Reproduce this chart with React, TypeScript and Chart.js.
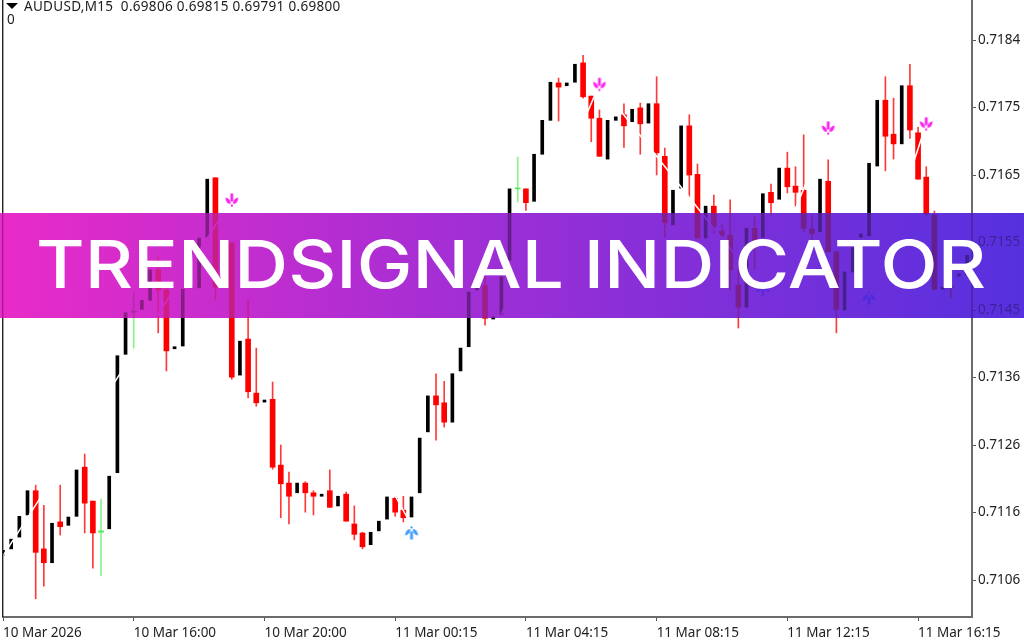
import React, { useEffect, useRef } from "react";
import { Chart, registerables } from "chart.js";

Chart.register(...registerables);

const symbolText = "AUDUSD,M15  0.69806 0.69815 0.69791 0.69800";
const bannerText = "TRENDSIGNAL INDICATOR";

const timeLabels = ["10 Mar 2026", "10 Mar 16:00", "10 Mar 20:00", "11 Mar 00:15", "11 Mar 04:15", "11 Mar 08:15", "11 Mar 12:15", "11 Mar 16:15"];
const barsPerTimeLabel = 16;
const priceTicks = [0.71063, 0.711605, 0.71258, 0.713555, 0.71453, 0.715505, 0.71648, 0.717455, 0.71843];

const opens = [
  0.71099, 0.71108, 0.71125, 0.71157, 0.71192, 0.71108, 0.71088, 0.71147, 0.71142, 0.71155,
  0.71226, 0.71177, 0.71132, 0.71137, 0.71218, 0.71389, 0.7145, 0.71454, 0.71467, 0.71511,
  0.71482, 0.71397, 0.71401, 0.71485, 0.71485, 0.71558, 0.71644, 0.71486, 0.7155, 0.71359,
  0.71411, 0.71333, 0.7132, 0.71324, 0.71229, 0.71203, 0.71189, 0.71203, 0.71189, 0.71184,
  0.71192, 0.7117, 0.71187, 0.71144, 0.71131, 0.71114, 0.71134, 0.71151, 0.71181, 0.71164,
  0.71154, 0.71189, 0.71277, 0.71329, 0.71319, 0.71291, 0.71365, 0.714, 0.71482, 0.71488,
  0.7144, 0.71446, 0.71525, 0.71628, 0.71628, 0.7161, 0.71678, 0.71727, 0.71781, 0.71777,
  0.71782, 0.7181, 0.71762, 0.7173, 0.71671, 0.71727, 0.71735, 0.71725, 0.71745, 0.71723,
  0.71751, 0.71675, 0.71576, 0.71629, 0.71719, 0.71649, 0.71557, 0.71603, 0.71567, 0.71561,
  0.71489, 0.71457, 0.71571, 0.71558, 0.71623, 0.71613, 0.71658, 0.71632, 0.71626, 0.7157,
  0.71566, 0.71639, 0.71537, 0.71453, 0.71508, 0.71558, 0.7156, 0.71661, 0.71756, 0.71707,
  0.71693, 0.71777, 0.71709, 0.71645, 0.7159, 0.71483, 0.71486, 0.71502, 0.71504,
];
const highs = [
  0.71106, 0.71122, 0.71155, 0.71192, 0.712, 0.71171, 0.71145, 0.712, 0.71154, 0.71222,
  0.71245, 0.71177, 0.7118, 0.71213, 0.71387, 0.71449, 0.71479, 0.71467, 0.71511, 0.7153,
  0.71489, 0.714, 0.71483, 0.71488, 0.71557, 0.71642, 0.71644, 0.7155, 0.7155, 0.71408,
  0.71467, 0.71398, 0.71323, 0.71349, 0.71258, 0.71219, 0.71203, 0.71205, 0.71192, 0.71187,
  0.71222, 0.71184, 0.7119, 0.7117, 0.71132, 0.71132, 0.71148, 0.71183, 0.71183, 0.71184,
  0.71183, 0.71268, 0.71329, 0.71361, 0.7135, 0.71361, 0.71398, 0.71479, 0.71486, 0.71501,
  0.71443, 0.71501, 0.71628, 0.71674, 0.71628, 0.71678, 0.71727, 0.71782, 0.71788, 0.71781,
  0.71808, 0.71821, 0.71762, 0.71742, 0.71727, 0.71732, 0.71751, 0.71743, 0.71752, 0.71751,
  0.7179, 0.71687, 0.71626, 0.71719, 0.71735, 0.71664, 0.71603, 0.71619, 0.71576, 0.71612,
  0.71511, 0.71571, 0.71587, 0.71621, 0.71635, 0.71658, 0.71681, 0.7166, 0.71706, 0.7159,
  0.71642, 0.7167, 0.71537, 0.71508, 0.71543, 0.71563, 0.71665, 0.71756, 0.7179, 0.71759,
  0.71777, 0.71808, 0.71717, 0.7166, 0.71596, 0.71486, 0.71506, 0.71505, 0.71532,
];
const lows = [
  0.71099, 0.71108, 0.71125, 0.71157, 0.71036, 0.71054, 0.71088, 0.71128, 0.71142, 0.71155,
  0.71131, 0.7108, 0.71069, 0.71137, 0.71218, 0.71389, 0.71398, 0.71454, 0.71467, 0.7142,
  0.71365, 0.71397, 0.71401, 0.71485, 0.71485, 0.71558, 0.71467, 0.71486, 0.71353, 0.71359,
  0.71326, 0.71314, 0.7132, 0.71223, 0.71153, 0.71144, 0.71189, 0.71161, 0.71157, 0.71184,
  0.71168, 0.7117, 0.71148, 0.71121, 0.71108, 0.71114, 0.71134, 0.71151, 0.71155, 0.71147,
  0.71154, 0.71189, 0.71277, 0.71265, 0.71284, 0.71291, 0.71365, 0.714, 0.71482, 0.71431,
  0.7144, 0.71446, 0.71525, 0.71609, 0.71597, 0.7161, 0.71678, 0.71727, 0.71726, 0.71777,
  0.71782, 0.71759, 0.71696, 0.71675, 0.71671, 0.71727, 0.71688, 0.71725, 0.71678, 0.71723,
  0.71648, 0.71558, 0.71576, 0.71629, 0.71616, 0.71557, 0.71557, 0.71564, 0.71508, 0.71482,
  0.71427, 0.71457, 0.71511, 0.71558, 0.7159, 0.71613, 0.71622, 0.71603, 0.71566, 0.71554,
  0.71566, 0.71537, 0.7142, 0.71453, 0.71508, 0.71558, 0.7156, 0.71661, 0.71654, 0.71671,
  0.71693, 0.71701, 0.71642, 0.71589, 0.71482, 0.71483, 0.7147, 0.71502, 0.71504,
];
const closes = [
  0.71106, 0.71122, 0.71155, 0.71192, 0.71103, 0.71088, 0.71145, 0.7114, 0.71154, 0.71222,
  0.71174, 0.71131, 0.71134, 0.71213, 0.71387, 0.71449, 0.71451, 0.71467, 0.71511, 0.71482,
  0.71394, 0.714, 0.71483, 0.71488, 0.71557, 0.71642, 0.71486, 0.7155, 0.71356, 0.71408,
  0.71335, 0.71319, 0.71323, 0.71226, 0.71202, 0.71184, 0.71203, 0.71189, 0.71184, 0.71187,
  0.71168, 0.71184, 0.71148, 0.71129, 0.71111, 0.71132, 0.71148, 0.71183, 0.71161, 0.71153,
  0.71183, 0.71268, 0.71329, 0.71316, 0.71291, 0.71361, 0.71398, 0.71479, 0.71486, 0.71441,
  0.71443, 0.71501, 0.71628, 0.71629, 0.71608, 0.71678, 0.71727, 0.71782, 0.71775, 0.71781,
  0.71808, 0.71761, 0.7173, 0.71675, 0.71727, 0.71732, 0.71719, 0.71743, 0.71722, 0.71751,
  0.7168, 0.71579, 0.71626, 0.71719, 0.71648, 0.71557, 0.71603, 0.71573, 0.71561, 0.71511,
  0.71457, 0.71571, 0.71554, 0.71621, 0.71608, 0.71658, 0.71631, 0.71623, 0.71571, 0.71563,
  0.71642, 0.71537, 0.71454, 0.71508, 0.71543, 0.71563, 0.71665, 0.71756, 0.71704, 0.71693,
  0.71777, 0.71713, 0.71642, 0.71592, 0.71483, 0.71486, 0.71485, 0.71505, 0.71532,
];
const limeBars = [12, 16, 63];

const sellSignalBars = [28, 73, 101, 113];
const sellSignalPrices = [0.71612, 0.71779, 0.71716, 0.71722];
const buySignalBars = [50, 93, 106];
const buySignalPrices = [0.71131, 0.71482, 0.7147];

const trendBars = [0, 28, 50, 73, 93, 101, 106, 113, 118];
const trendPrices = [0.71098, 0.71612, 0.71142, 0.71779, 0.71482, 0.71716, 0.7147, 0.71722, 0.71722];

const lastBarX = 118.6;
const priceMin = 0.710096;
const priceMax = 0.719008;

const indices = opens.map((_, i) => i);
const isLime = (i: number) => limeBars.includes(i);
const isUp = (i: number) => !isLime(i) && closes[i] >= opens[i];
const isDown = (i: number) => !isLime(i) && closes[i] < opens[i];
const body = (i: number) => ({ x: i, y: [opens[i], closes[i]] });
const wick = (i: number) => ({ x: i, y: [lows[i], highs[i]] });

function arrowImage(color: string, up: boolean) {
  const c = document.createElement("canvas");
  c.width = 16;
  c.height = 16;
  const g = c.getContext("2d") as CanvasRenderingContext2D;
  if (up) {
    g.translate(0, 16);
    g.scale(1, -1);
  }
  g.fillStyle = color;
  g.fillRect(6.6, 1.5, 2.8, 8);
  g.beginPath();
  g.moveTo(1.5, 5.5);
  g.quadraticCurveTo(5.5, 6, 6.8, 10.5);
  g.lineTo(6.5, 12);
  g.quadraticCurveTo(2, 11.5, 1.5, 5.5);
  g.closePath();
  g.fill();
  g.beginPath();
  g.moveTo(14.5, 5.5);
  g.quadraticCurveTo(10.5, 6, 9.2, 10.5);
  g.lineTo(9.5, 12);
  g.quadraticCurveTo(14, 11.5, 14.5, 5.5);
  g.closePath();
  g.fill();
  g.fillRect(7, 12.6, 2, 2);
  return c;
}

const UI_FONT = '"Noto Sans", "DejaVu Sans", sans-serif';

const overlayPlugin = {
  id: "overlay",
  afterDraw(chart: any) {
    const ctx = chart.ctx as CanvasRenderingContext2D;
    ctx.save();
    ctx.fillStyle = "#222";
    ctx.fillRect(2, 0, 1.4, 617);
    ctx.fillStyle = "#000";
    ctx.beginPath();
    ctx.moveTo(6, 3);
    ctx.lineTo(18, 3);
    ctx.lineTo(12, 9);
    ctx.closePath();
    ctx.fill();
    ctx.fillStyle = "#1c1c1c";
    ctx.font = `13.5px ${UI_FONT}`;
    ctx.textAlign = "left";
    ctx.textBaseline = "alphabetic";
    (ctx as any).letterSpacing = "0.3px";
    ctx.fillText(symbolText, 24, 11);
    (ctx as any).letterSpacing = "0px";
    ctx.fillText("0", 7, 24);
    const top = 213;
    const h = 105;
    const w = chart.width;
    const grad = ctx.createLinearGradient(0, 0, w, 0);
    grad.addColorStop(0, "#e92bc8");
    grad.addColorStop(0.5, "#9a2fd6");
    grad.addColorStop(1, "#5630de");
    ctx.fillStyle = grad;
    ctx.globalCompositeOperation = "multiply";
    ctx.fillRect(0, top, w, h);
    ctx.globalCompositeOperation = "source-over";
    ctx.globalAlpha = 0.65;
    ctx.fillRect(0, top, w, h);
    ctx.globalAlpha = 1;
    ctx.fillStyle = "#fff";
    ctx.font = '500 66px Inter, "Open Sans", sans-serif';
    const tw = ctx.measureText(bannerText).width;
    ctx.translate(36, 288);
    ctx.scale(950 / tw, 1);
    ctx.fillText(bannerText, 0, 0);
    ctx.restore();
  },
};

export default function App() {
  const ref = useRef<HTMLCanvasElement | null>(null);
  useEffect(() => {
    document.body.style.margin = "0";
    document.body.style.background = "#fff";
    const canvas = ref.current as HTMLCanvasElement;
    const chart = new Chart(canvas, {
      type: "bar",
      plugins: [overlayPlugin],
      data: {
        datasets: [
          {
            type: "scatter",
            label: "Sell signal",
            data: sellSignalBars.map((b, i) => ({ x: b, y: sellSignalPrices[i] })),
            pointStyle: arrowImage("#fb24ee", false),
            pointRadius: 8,
            showLine: false,
            order: 1,
          },
          {
            type: "scatter",
            label: "Buy signal",
            data: buySignalBars.map((b, i) => ({ x: b, y: buySignalPrices[i] })),
            pointStyle: arrowImage("#3f9dff", true),
            pointRadius: 8,
            showLine: false,
            order: 1,
          },
          {
            type: "line",
            label: "Trend",
            data: trendBars.map((b, i) => ({ x: b, y: trendPrices[i] })),
            borderColor: "#ffffff",
            borderWidth: 1.5,
            pointRadius: 0,
            tension: 0,
            order: 2,
          },
          {
            label: "Up body",
            data: indices.filter(isUp).map(body),
            backgroundColor: "#000000",
            barThickness: 3,
            minBarLength: 1.5,
            grouped: false,
            order: 3,
          },
          {
            label: "Down body",
            data: indices.filter(isDown).map(body),
            backgroundColor: "#ff0000",
            barThickness: 5,
            minBarLength: 1.5,
            grouped: false,
            order: 3,
          },
          {
            label: "Lime body",
            data: indices.filter(isLime).map(body),
            backgroundColor: "#54e854",
            barThickness: 5,
            minBarLength: 1,
            grouped: false,
            order: 3,
          },
          {
            label: "Down wick",
            data: indices.filter(isDown).map(wick),
            backgroundColor: "#ff3a3a",
            barThickness: 1,
            grouped: false,
            order: 4,
          },
          {
            label: "Lime wick",
            data: indices.filter(isLime).map(wick),
            backgroundColor: "#8cf08c",
            barThickness: 1,
            grouped: false,
            order: 4,
          },
        ] as any,
      },
      options: {
        responsive: false,
        animation: false,
        layout: { autoPadding: false, padding: { left: 3, right: 0, top: 0, bottom: 0 } },
        plugins: { legend: { display: false }, tooltip: { enabled: false }, title: { display: false } },
        scales: {
          x: {
            type: "linear",
            position: "bottom",
            offset: false,
            min: 0,
            max: lastBarX,
            afterBuildTicks(scale: any) {
              scale.ticks = timeLabels.map((_, i) => ({ value: i * barsPerTimeLabel }));
            },
            afterFit(scale: any) {
              scale.height = 23;
              scale.paddingLeft = 0;
              scale.paddingRight = 0;
            },
            grid: { offset: false, drawOnChartArea: false, drawTicks: true, tickLength: 4, color: "#555" },
            border: { display: true, color: "#6b6b6b", width: 2 },
            ticks: {
              align: "start",
              autoSkip: false,
              maxRotation: 0,
              minRotation: 0,
              padding: 4,
              color: "#222",
              font: { family: UI_FONT, size: 13.5 },
              callback: (v: any) => timeLabels[Math.round(Number(v) / barsPerTimeLabel)] ?? "",
            },
          },
          y: {
            type: "linear",
            position: "right",
            min: priceMin,
            max: priceMax,
            afterBuildTicks(scale: any) {
              scale.ticks = priceTicks.map((value) => ({ value }));
            },
            afterFit(scale: any) {
              scale.width = 52;
              scale.paddingTop = 0;
              scale.paddingBottom = 0;
            },
            grid: { drawOnChartArea: false, drawTicks: true, tickLength: 4, color: "#555" },
            border: { display: true, color: "#6b6b6b", width: 2 },
            ticks: {
              autoSkip: false,
              padding: 2,
              color: "#222",
              font: { family: UI_FONT, size: 13.5 },
              callback: (v: any) => Number(v).toFixed(4),
            },
          },
        },
      },
    } as any);
    return () => chart.destroy();
  }, []);
  return (
    <div style={{ position: "absolute", left: 0, top: 0, width: 1024, height: 640 }}>
      <canvas ref={ref} width={1024} height={640} style={{ display: "block" }} />
    </div>
  );
}
